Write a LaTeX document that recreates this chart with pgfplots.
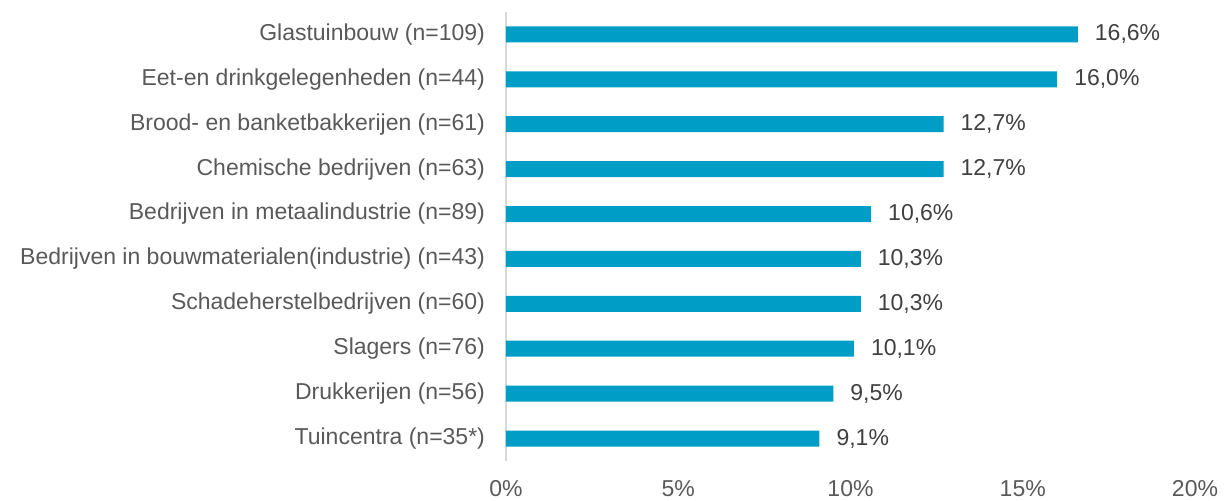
\documentclass[border=0pt]{standalone}
\usepackage{pgfplots}
\pgfplotsset{compat=1.18}
\usepackage{fontspec}
\setmainfont{Liberation Sans}
\definecolor{barblue}{RGB}{0,157,198}
\definecolor{catgrey}{RGB}{89,89,89}
\definecolor{valgrey}{RGB}{64,64,64}
\definecolor{axgrey}{RGB}{217,217,217}
\begin{document}
\begin{tikzpicture}
\useasboundingbox (-253pt,-20pt) rectangle (359.5pt,230.5pt);
\begin{axis}[
  at={(0,0)}, anchor=south west,
  scale only axis, width=344.5pt, height=224.5pt,
  /pgf/number format/assume math mode=true,
  xbar, bar width=8pt,
  xmin=0, xmax=20, ymin=-0.5, ymax=9.5,
  y dir=reverse,
  axis x line*=bottom,
  axis y line*=left,
  x axis line style={draw=none},
  y axis line style={draw=axgrey, line width=0.8pt},
  xtick={0,5,10,15,20},
  xticklabel={\pgfmathprintnumber{\tick}\%},
  ytick={0,...,9},
  yticklabels={Glastuinbouw (n=109),Eet-en drinkgelegenheden (n=44),Brood- en banketbakkerijen (n=61),Chemische bedrijven (n=63),Bedrijven in metaalindustrie (n=89),Bedrijven in bouwmaterialen(industrie) (n=43),Schadeherstelbedrijven (n=60),Slagers (n=76),Drukkerijen (n=56),Tuincentra (n=35*)},
  major tick length=0pt,
  tick style={draw=none},
  yticklabel style={font=\fontsize{11.5}{13}\selectfont, text=catgrey, xshift=-7pt},
  xticklabel style={font=\fontsize{11.5}{13}\selectfont, text=catgrey, yshift=-6pt},
  point meta=x,
  nodes near coords={\pgfmathprintnumber[use comma,fixed,fixed zerofill,precision=1]{\pgfplotspointmeta}\%},
  nodes near coords style={font=\fontsize{11.5}{13}\selectfont, text=valgrey, anchor=west, xshift=5pt},
  clip=false,
]
\addplot[fill=barblue, draw=none] coordinates {
(16.6,0) (16.0,1) (12.7,2) (12.7,3) (10.6,4) (10.3,5) (10.3,6) (10.1,7) (9.5,8) (9.1,9)};
\end{axis}
\end{tikzpicture}
\end{document}
